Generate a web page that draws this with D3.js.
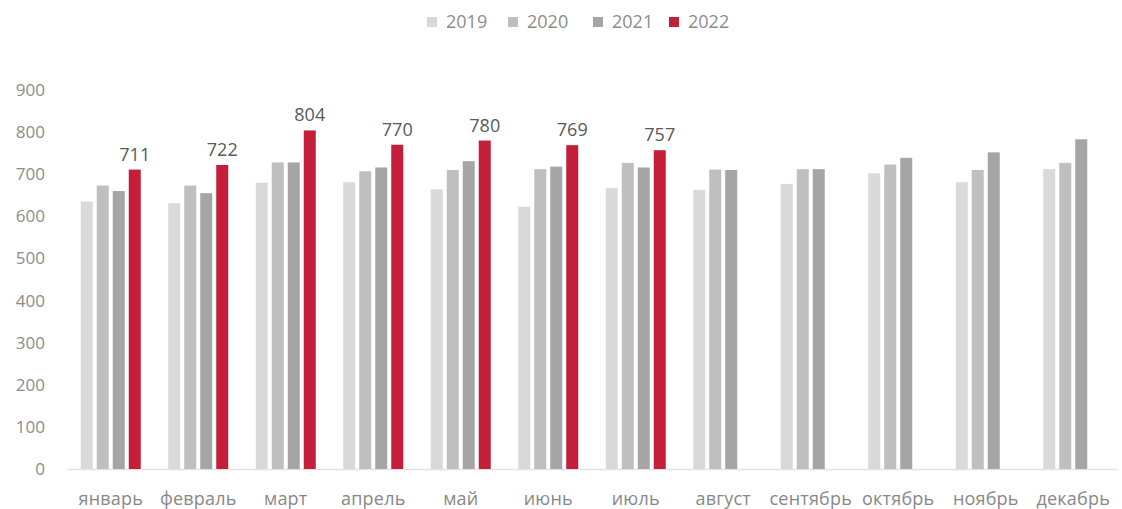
<!DOCTYPE html>
<html>
<head>
<meta charset="utf-8">
<script src="https://cdn.jsdelivr.net/npm/d3@7"></script>
<style>
  body { margin: 0; background: #fff; }
  text { font-family: "Open Sans", sans-serif; }
</style>
</head>
<body>
<svg id="chart"></svg>
<script>
// data
const months = ["январь", "февраль", "март", "апрель", "май", "июнь", "июль",
  "август", "сентябрь", "октябрь", "ноябрь", "декабрь"]
const years = ["2019", "2020", "2021", "2022"]
const v2019 = [635, 631, 680, 681, 664, 623, 667, 663, 677, 702, 681, 712]
const v2020 = [673, 673, 728, 707, 710, 712, 727, 711, 712, 723, 710, 727]
const v2021 = [660, 655, 728, 716, 731, 718, 716, 710, 712, 739, 752, 783]
const v2022 = [711, 722, 804, 770, 780, 769, 757, null, null, null, null, null]
const yTicks = [0, 100, 200, 300, 400, 500, 600, 700, 800, 900]
const colors = ["#d9d9d9", "#bfbfbf", "#a5a5a5", "#c41e3a"]

let width = 1122,
  height = 509,
  margin = {top: 90, right: 5, bottom: 40, left: 67}

let series = [v2019, v2020, v2021, v2022]

let svg = d3.select("#chart")
  .attr("width", width)
  .attr("height", height)

let x = d3.scaleBand()
  .domain(months)
  .range([margin.left, width - margin.right])

let y = d3.scaleLinear()
  .domain([0, 900])
  .range([height - margin.bottom, margin.top])

// bars are 12px with 4px gaps, centred in each month band
let barW = 12, barGap = 4
let groupW = years.length * barW + (years.length - 1) * barGap
let xs = d3.scaleBand()
  .domain(years)
  .range([0, groupW])
  .paddingInner(barGap / (barW + barGap))

// y axis labels only, no line
let yAxis = d3.axisLeft(y).tickValues(yTicks).tickSize(0).tickPadding(22)
svg.append("g")
  .attr("transform", "translate(" + margin.left + ",0)")
  .call(yAxis)
  .call(g => g.select(".domain").remove())
  .selectAll("text")
  .style("font-size", "17px")
  .attr("fill", "#8c8c8c")

// baseline
let xAxis = d3.axisBottom(x).tickSize(0).tickPadding(23)
svg.append("g")
  .attr("transform", "translate(0," + y(0) + ")")
  .call(xAxis)
  .call(g => g.select(".domain").attr("stroke", "#e3e3e3").attr("stroke-width", 1.5))
  .selectAll("text")
  .style("font-size", "18px")
  .style("letter-spacing", "0.2px")
  .attr("fill", "#888")

let groups = svg.append("g").selectAll("g.month")
  .data(months)
  .enter().append("g")
  .attr("class", "month")
  .attr("transform", d => "translate(" + (x(d) + (x.bandwidth() - groupW) / 2) + ",0)")

groups.each(function(m, i) {
  let g = d3.select(this)
  years.forEach(function(yr, k) {
    let v = series[k][i]
    if (v == null) return
    g.append("rect")
      .attr("x", xs(yr))
      .attr("y", y(v))
      .attr("width", xs.bandwidth())
      .attr("height", y(0) - y(v))
      .attr("fill", colors[k])
  })
  let v = v2022[i]
  if (v != null) {
    g.append("text")
      .attr("x", xs("2022") + xs.bandwidth() / 2)
      .attr("y", y(v) - 9)
      .attr("text-anchor", "middle")
      .style("font-size", "18px")
      .attr("fill", "#595959")
      .text(v)
  }
})

// legend
let legendX = [427, 508, 593, 669]
let legend = svg.append("g").selectAll("g.legend")
  .data(years)
  .enter().append("g")
  .attr("class", "legend")
  .attr("transform", (d, i) => "translate(" + legendX[i] + ",17)")

legend.append("rect")
  .attr("width", 10)
  .attr("height", 10)
  .attr("fill", (d, i) => colors[i])

legend.append("text")
  .attr("x", 19)
  .attr("y", 5)
  .attr("dy", "0.35em")
  .style("font-size", "18px")
  .attr("fill", "#8c8c8c")
  .text(d => d)
</script>
</body>
</html>
